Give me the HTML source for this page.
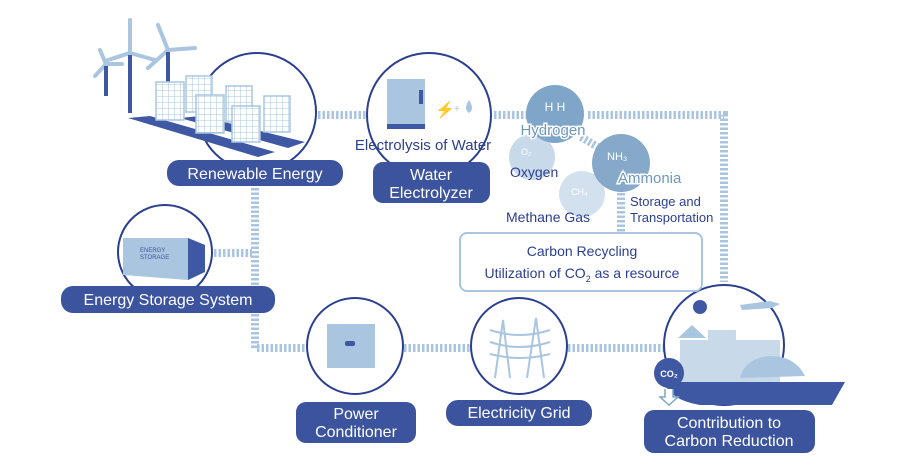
<!DOCTYPE html>
<html><head><meta charset="utf-8"><style>
body{margin:0;background:#fff;}
svg text{font-family:"Liberation Sans",sans-serif;}
</style></head><body>
<svg width="920" height="467" viewBox="0 0 920 467" xmlns="http://www.w3.org/2000/svg">
<defs>
<pattern id="pg" width="6" height="6" patternUnits="userSpaceOnUse"><rect width="6" height="6" fill="#fff"/><path d="M0 0H6M0 0V6" stroke="#a9c5df" stroke-width="1"/></pattern>
</defs>
<g fill="none" stroke="#a9c5df" stroke-width="8" stroke-dasharray="2.5 2">
<path d="M318 115 H366"/>
<path d="M494 115 H528"/>
<path d="M588 115 H724 V282"/>
<path d="M581 137 L603 150"/>
<path d="M621 193 V232"/>
<path d="M255 188 V348 H306"/>
<path d="M214 253 H252"/>
<path d="M404 348 H470"/>
<path d="M568 348 H664"/>
</g>
<g fill="none" stroke="#2b3f91" stroke-width="2">
<circle cx="257" cy="112" r="59"/>
<circle cx="429" cy="115" r="62"/>
<circle cx="165" cy="252" r="47"/>
<circle cx="355" cy="346" r="48"/>
<circle cx="519" cy="346" r="48"/>
<circle cx="724" cy="345" r="60"/>
</g>
<!-- wind turbines -->
<g stroke="#a9c5df" stroke-width="4" stroke-linecap="round">
<line x1="130" y1="53" x2="130" y2="20"/><line x1="130" y1="53" x2="108" y2="60"/><line x1="130" y1="53" x2="155" y2="60"/>
<line x1="168" y1="50" x2="158" y2="25"/><line x1="168" y1="50" x2="195" y2="48"/><line x1="168" y1="50" x2="148" y2="68"/>
<line x1="106" y1="64" x2="100" y2="50"/><line x1="106" y1="64" x2="95" y2="76"/><line x1="106" y1="64" x2="122" y2="64"/>
</g>
<g stroke="#3f58a3" stroke-width="4"><line x1="130" y1="55" x2="130" y2="113"/><line x1="168" y1="52" x2="168" y2="100"/><line x1="106" y1="66" x2="106" y2="96"/></g>
<polygon points="128,118 150,116 275,152 258,157" fill="#3f58a3"/>
<polygon points="180,118 200,116 305,142 288,148" fill="#3f58a3"/>
<g fill="url(#pg)" stroke="#a9c5df" stroke-width="1.5">
<rect x="156" y="82" width="28" height="38"/><rect x="186" y="76" width="26" height="36"/><rect x="196" y="95" width="28" height="38"/>
<rect x="226" y="86" width="26" height="36"/><rect x="232" y="106" width="28" height="36"/><rect x="264" y="96" width="26" height="36"/>
</g>
<!-- electrolyzer -->
<rect x="387" y="79" width="38" height="49" fill="#a9c5df"/><rect x="387" y="124" width="38" height="5" fill="#3f58a3"/><rect x="419" y="90" width="4" height="14" fill="#3f58a3"/>
<text x="435" y="115" font-size="16" fill="#a9c5df">⚡</text><text x="454" y="112" font-size="10" fill="#a9c5df">+</text>
<path d="M469 100 q-6 9 0 13 q6 -4 0 -13z" fill="#a9c5df"/>
<text x="423" y="150" font-size="15" fill="#2b3f91" text-anchor="middle">Electrolysis of Water</text>
<!-- molecules -->
<circle cx="532" cy="157" r="23" fill="#c8d9ea"/>
<circle cx="582" cy="194" r="23" fill="#d3e1ef"/>
<circle cx="555" cy="114" r="29" fill="#7fa6c8"/>
<circle cx="621" cy="163" r="29" fill="#86a9c9"/>
<text x="555" y="111" font-size="12" fill="#fff" text-anchor="middle">H H</text>
<text x="521" y="155" font-size="9" fill="#fff">O₂</text>
<text x="571" y="195" font-size="9" fill="#fff">CH₄</text>
<text x="607" y="160" font-size="11" fill="#fff">NH₃</text>
<text x="553" y="135" font-size="15" fill="#6f98c0" stroke="#fff" stroke-width="3" paint-order="stroke" text-anchor="middle">Hydrogen</text>
<text x="510" y="177" font-size="14" fill="#2b3f91">Oxygen</text>
<text x="618" y="183" font-size="15" fill="#6f98c0" stroke="#fff" stroke-width="3" paint-order="stroke">Ammonia</text>
<text x="506" y="222" font-size="14" fill="#2b3f91">Methane Gas</text>
<text x="630" y="206" font-size="13" fill="#2b3f91">Storage and</text>
<text x="630" y="222" font-size="13" fill="#2b3f91">Transportation</text>
<rect x="460" y="233" width="242" height="58" rx="7" fill="#fff" stroke="#a9c5df" stroke-width="2"/>
<text x="582" y="256" font-size="14" fill="#2b3f91" text-anchor="middle">Carbon Recycling</text>
<text x="582" y="278" font-size="14" fill="#2b3f91" text-anchor="middle">Utilization of CO<tspan font-size="9" dy="4">2</tspan><tspan dy="-4"> as a resource</tspan></text>
<!-- energy storage -->
<polygon points="123,238 188,238 205,245 205,272 188,280 123,275" fill="#a9c5df"/>
<polygon points="188,238 205,245 205,272 188,280" fill="#3f58a3"/>
<text x="140" y="252" font-size="6" fill="#3f58a3">ENERGY</text><text x="140" y="259" font-size="6" fill="#3f58a3">STORAGE</text>
<!-- power conditioner -->
<rect x="327" y="324" width="48" height="44" fill="#a9c5df"/><rect x="345" y="341" width="10" height="5" rx="2" fill="#3f58a3"/>
<!-- grid -->
<g stroke="#a9c5df" stroke-width="2" fill="none"><path d="M495 378 L503 320 L510 378 M527 378 L536 318 L544 378"/><path d="M490 330 Q520 340 550 330 M490 342 Q520 352 550 342 M490 354 Q520 362 550 354"/></g>
<!-- contribution -->
<path d="M664 382 H845 L832 405 H700 Q670 400 664 382z" fill="#3f58a3"/>
<rect x="680" y="340" width="100" height="42" fill="#c8d9ea"/>
<polygon points="678,338 692,325 706,338" fill="#a9c5df"/><rect x="708" y="330" width="28" height="12" fill="#c8d9ea"/>
<path d="M740 378 q5 -20 30 -22 q25 0 35 20z" fill="#a9c5df"/>
<circle cx="700" cy="307" r="7" fill="#3f58a3"/>
<path d="M740 305 l30 -4 l10 3 l-8 4 l-30 2z" fill="#a9c5df"/>
<circle cx="669" cy="373" r="15" fill="#3f58a3"/><text x="669" y="377" font-size="9" fill="#fff" text-anchor="middle" font-weight="bold">CO₂</text>
<path d="M665 389 v8 h-5 l9 8 l9 -8 h-5 v-8" fill="#fff" stroke="#7fa6c8" stroke-width="1.5"/>
<!-- labels -->
<g fill="#3c539e">
<rect x="167" y="160" width="176" height="26" rx="12"/>
<rect x="373" y="162" width="117" height="41" rx="10"/>
<rect x="61" y="286" width="214" height="27" rx="12"/>
<rect x="296" y="402" width="120" height="41" rx="10"/>
<rect x="446" y="400" width="146" height="26" rx="12"/>
<rect x="644" y="410" width="171" height="43" rx="10"/>
</g>
<g fill="#fff" font-size="16" text-anchor="middle">
<text x="255" y="179">Renewable Energy</text>
<text x="431" y="180">Water</text><text x="431" y="198">Electrolyzer</text>
<text x="168" y="305">Energy Storage System</text>
<text x="356" y="419">Power</text><text x="356" y="437">Conditioner</text>
<text x="519" y="418">Electricity Grid</text>
<text x="729" y="428">Contribution to</text><text x="729" y="446">Carbon Reduction</text>
</g>
</svg>
</body></html>
